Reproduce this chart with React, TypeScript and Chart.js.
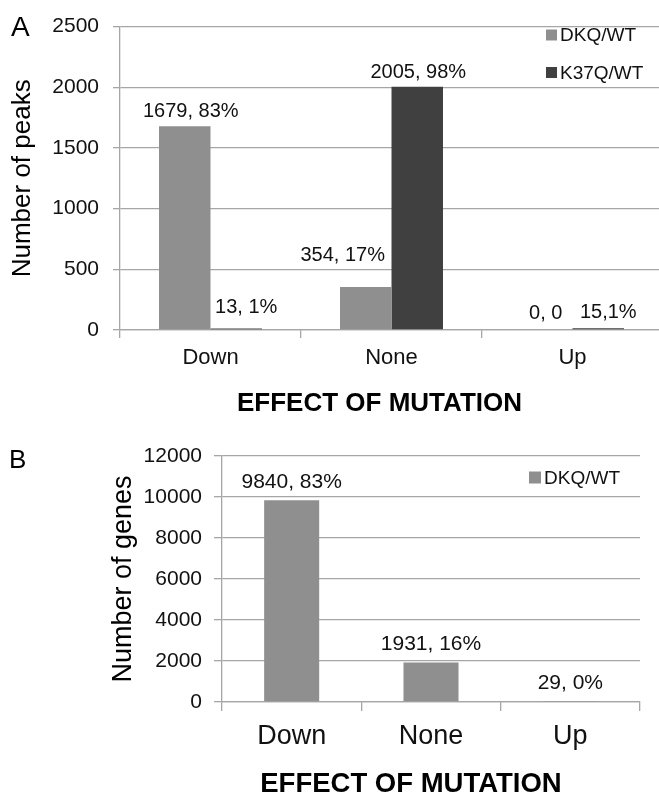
import React, { useEffect, useRef } from "react";
import { Chart, registerables } from "chart.js";

Chart.register(...registerables);

// ---------- data ----------
const categories = ["Down", "None", "Up"];
const seriesNames = ["DKQ/WT", "K37Q/WT"];

const peaksDKQ = [1679, 354, 0];
const peaksK37Q = [13, 2005, 15];
const peaksDKQLabels = ["1679, 83%", "354, 17%", "0, 0"];
const peaksK37QLabels = ["13, 1%", "2005, 98%", "15,1%"];
const peaksMax = 2500;
const peaksStep = 500;

const genesDKQ = [9840, 1931, 29];
const genesDKQLabels = ["9840, 83%", "1931, 16%", "29, 0%"];
const genesMax = 12000;
const genesStep = 2000;

const titleA = "Number of peaks";
const titleB = "Number of genes";
const xTitle = "EFFECT OF MUTATION";

// ---------- styles ----------
const FONT = "'Liberation Sans', Arial, Helvetica, sans-serif";
const GRID = "#a6a6a6";
const LIGHT = "#8f8f8f";
const DARK = "#404040";
const TEXT = "#111111";

// plugin: value labels above bars
const barLabelsPlugin = {
  id: "barLabels",
  afterDatasetsDraw(chart: any, _args: any, opts: any) {
    const { ctx } = chart;
    ctx.save();
    ctx.font = `${opts.size}px ${FONT}`;
    ctx.fillStyle = TEXT;
    ctx.textAlign = "center";
    ctx.textBaseline = "middle";
    chart.data.datasets.forEach((ds: any, i: number) => {
      const meta = chart.getDatasetMeta(i);
      const labels = opts.labels[i] || [];
      const offs = opts.offsets[i] || [];
      meta.data.forEach((bar: any, j: number) => {
        const o = offs[j] || [0, 18];
        ctx.fillText(labels[j], bar.x + o[0], bar.y - o[1]);
      });
    });
    ctx.restore();
  },
};

// plugin: legend drawn inside the plot area
const floatLegendPlugin = {
  id: "floatLegend",
  afterDraw(chart: any, _args: any, opts: any) {
    const { ctx } = chart;
    ctx.save();
    ctx.font = `${opts.size}px ${FONT}`;
    ctx.textBaseline = "middle";
    ctx.textAlign = "left";
    chart.data.datasets.forEach((ds: any, i: number) => {
      const cy = opts.y + i * opts.gap;
      ctx.fillStyle = ds.backgroundColor;
      ctx.fillRect(opts.x, cy - opts.box / 2, opts.box, opts.box);
      ctx.fillStyle = TEXT;
      ctx.fillText(ds.label, opts.x + opts.box + 3, cy + 1);
    });
    ctx.restore();
  },
};

// plugin: panel letter and x-axis title
const panelTextPlugin = {
  id: "panelText",
  afterDraw(chart: any, _args: any, opts: any) {
    const { ctx, chartArea } = chart;
    ctx.save();
    ctx.fillStyle = "#000";
    ctx.textBaseline = "middle";
    ctx.textAlign = "left";
    ctx.font = `${opts.letterSize}px ${FONT}`;
    ctx.fillText(opts.letter, opts.letterX, opts.letterY);
    ctx.textAlign = "center";
    ctx.font = `bold ${opts.titleSize}px ${FONT}`;
    ctx.fillText(
      opts.title,
      (chartArea.left + chartArea.right) / 2 + opts.titleDx,
      chartArea.bottom + opts.titleDy
    );
    ctx.restore();
  },
};

function makeScales(p: {
  max: number;
  step: number;
  yTitle: string;
  yWidth: number;
  yTitlePad: number;
  yTickSize: number;
  yTickPad: number;
  yTickLen: number;
  xHeight: number;
  xTickSize: number;
  xTickPad: number;
  xTickLen: number;
  yTitleSize: number;
}) {
  return {
    x: {
      grid: {
        display: true,
        drawOnChartArea: false,
        drawTicks: true,
        tickLength: p.xTickLen,
        color: GRID,
        lineWidth: 1.3,
        offset: true,
      },
      border: { display: true, color: GRID, width: 1.3 },
      ticks: {
        color: TEXT,
        padding: p.xTickPad,
        font: { size: p.xTickSize, family: FONT },
      },
      title: { display: false },
      afterFit: (s: any) => {
        s.height = p.xHeight;
      },
    },
    y: {
      min: 0,
      max: p.max,
      grid: {
        color: GRID,
        lineWidth: 1.3,
        tickLength: p.yTickLen,
      },
      border: { display: true, color: GRID, width: 1.3 },
      ticks: {
        stepSize: p.step,
        color: TEXT,
        padding: p.yTickPad,
        font: { size: p.yTickSize, family: FONT },
        callback: (v: any) => String(v),
      },
      title: {
        display: true,
        text: p.yTitle,
        color: "#000",
        padding: { top: p.yTitlePad, bottom: 0 },
        font: { size: p.yTitleSize, family: FONT },
      },
      afterFit: (s: any) => {
        s.width = p.yWidth;
      },
    },
  };
}

function ChartA() {
  const ref = useRef<HTMLCanvasElement | null>(null);
  useEffect(() => {
    if (!ref.current) return;
    const chart = new Chart(ref.current, {
      type: "bar",
      data: {
        labels: categories,
        datasets: [
          {
            label: seriesNames[0],
            data: peaksDKQ,
            backgroundColor: LIGHT,
            categoryPercentage: 0.569,
            barPercentage: 1,
          },
          {
            label: seriesNames[1],
            data: peaksK37Q,
            backgroundColor: DARK,
            categoryPercentage: 0.569,
            barPercentage: 1,
          },
        ],
      },
      options: {
        animation: false,
        responsive: true,
        maintainAspectRatio: false,
        layout: { padding: { left: 0, top: 21, right: 0, bottom: 0 } },
        plugins: {
          legend: { display: false },
          tooltip: { enabled: false },
          barLabels: {
            size: 20,
            labels: [peaksDKQLabels, peaksK37QLabels],
            offsets: [
              [[6, 15], [-23, 32], [-1, 17]],
              [[10, 21], [1, 14], [10, 16]],
            ],
          },
          floatLegend: { x: 546, y: 35, gap: 37.5, box: 11, size: 19 },
          panelText: {
            letter: "A",
            letterX: 11,
            letterY: 28,
            letterSize: 28,
            title: xTitle,
            titleSize: 26,
            titleDx: -12,
            titleDy: 74,
          },
        } as any,
        scales: makeScales({
          max: peaksMax,
          step: peaksStep,
          yTitle: titleA,
          yWidth: 120,
          yTitlePad: 7,
          yTickSize: 21,
          yTickPad: 14,
          yTickLen: 7,
          xHeight: 88,
          xTickSize: 22,
          xTickPad: 7,
          xTickLen: 8,
          yTitleSize: 26,
        }) as any,
      },
      plugins: [barLabelsPlugin, floatLegendPlugin, panelTextPlugin],
    });
    return () => chart.destroy();
  }, []);
  return (
    <div style={{ position: "absolute", left: 0, top: 0, width: 663, height: 418 }}>
      <canvas ref={ref} />
    </div>
  );
}

function ChartB() {
  const ref = useRef<HTMLCanvasElement | null>(null);
  useEffect(() => {
    if (!ref.current) return;
    const chart = new Chart(ref.current, {
      type: "bar",
      data: {
        labels: categories,
        datasets: [
          {
            label: seriesNames[0],
            data: genesDKQ,
            backgroundColor: LIGHT,
            categoryPercentage: 0.395,
            barPercentage: 1,
          },
        ],
      },
      options: {
        animation: false,
        responsive: true,
        maintainAspectRatio: false,
        layout: { padding: { left: 93, top: 38, right: 19, bottom: 0 } },
        plugins: {
          legend: { display: false },
          tooltip: { enabled: false },
          barLabels: {
            size: 21,
            labels: [genesDKQLabels],
            offsets: [[[0, 18.5], [0, 18.5], [0, 18.5]]],
          },
          floatLegend: { x: 529, y: 59.5, gap: 37, box: 12, size: 19 },
          panelText: {
            letter: "B",
            letterX: 9,
            letterY: 43,
            letterSize: 26,
            title: xTitle,
            titleSize: 27.5,
            titleDx: -20,
            titleDy: 82,
          },
        } as any,
        scales: makeScales({
          max: genesMax,
          step: genesStep,
          yTitle: titleB,
          yWidth: 129,
          yTitlePad: 14,
          yTickSize: 21,
          yTickPad: 12,
          yTickLen: 8,
          xHeight: 96,
          xTickSize: 27,
          xTickPad: 9,
          xTickLen: 9,
          yTitleSize: 27,
        }) as any,
      },
      plugins: [barLabelsPlugin, floatLegendPlugin, panelTextPlugin],
    });
    return () => chart.destroy();
  }, []);
  return (
    <div style={{ position: "absolute", left: 0, top: 418, width: 659, height: 380 }}>
      <canvas ref={ref} />
    </div>
  );
}

export default function App() {
  return (
    <div
      style={{
        position: "absolute",
        left: 0,
        top: 0,
        width: 659,
        height: 795,
        overflow: "hidden",
        background: "#fff",
      }}
    >
      <ChartA />
      <ChartB />
    </div>
  );
}
